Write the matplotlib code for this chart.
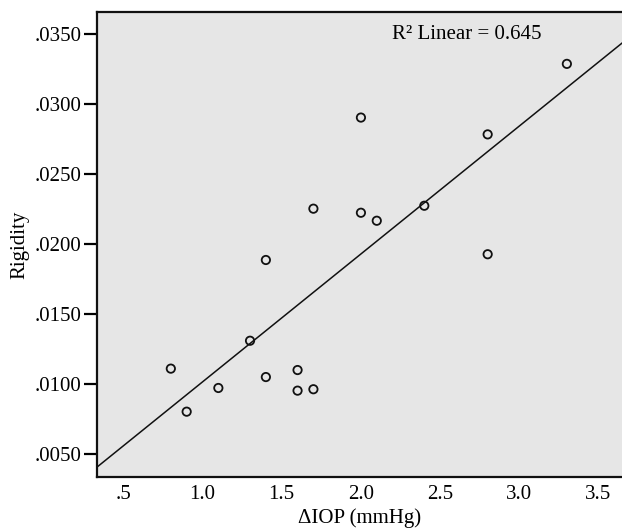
import numpy as np
import matplotlib
matplotlib.use("Agg")
import matplotlib.pyplot as plt

# Data
delta_iop = [0.8, 0.9, 1.1, 1.3, 1.4, 1.6, 1.6, 1.7, 1.4, 1.7, 2.0, 2.1, 2.4, 2.8, 2.8, 2.0, 3.3]
rigidity = [0.01111, 0.00804, 0.00973, 0.0131, 0.01051, 0.01101, 0.00954, 0.00964,
            0.01886, 0.02252, 0.02223, 0.02166, 0.02273, 0.02782, 0.01927, 0.02902, 0.03285]

x_ticks = [0.5, 1.0, 1.5, 2.0, 2.5, 3.0, 3.5]
x_tick_labels = [".5", "1.0", "1.5", "2.0", "2.5", "3.0", "3.5"]
y_ticks = [0.005, 0.010, 0.015, 0.020, 0.025, 0.030, 0.035]
y_tick_labels = [".0050", ".0100", ".0150", ".0200", ".0250", ".0300", ".0350"]
r2_text = "R² Linear = 0.645"

plt.rcParams['font.family'] = ['Liberation Serif', 'DejaVu Serif']

fig = plt.figure(figsize=(6.22, 5.29), dpi=100)
ax = fig.add_axes([97/622, 1-477/529, 1-97/622, (477-12)/529])
ax.set_facecolor('#e6e6e6')

xlim = (0.334, 3.648)
ylim = (0.00338, 0.03655)
ax.set_xlim(*xlim)
ax.set_ylim(*ylim)

x = np.array(delta_iop)
y = np.array(rigidity)
slope, intercept = np.polyfit(x, y, 1)
xl = np.array(xlim)
ax.plot(xl, slope*xl + intercept, color='#111111', lw=1.1, zorder=2)

ax.scatter(x, y, s=36, facecolors='none', edgecolors='#111111', linewidths=1.3, zorder=3)

ax.set_xticks(x_ticks)
ax.set_xticklabels(x_tick_labels)
ax.set_yticks(y_ticks)
ax.set_yticklabels(y_tick_labels)
ax.tick_params(axis='x', length=0, pad=6, labelsize=15)
ax.tick_params(axis='y', length=9.4, width=1.6, pad=1.5, labelsize=15)

for s in ['left', 'bottom', 'top']:
    ax.spines[s].set_linewidth(1.6)
    ax.spines[s].set_color('#111111')
ax.spines['right'].set_visible(False)

ax.set_xlabel("ΔIOP (mmHg)", fontsize=15, labelpad=3)
ax.set_ylabel("Rigidity", fontsize=15, labelpad=4)

ax.text(2.668, 0.03495, r2_text, fontsize=15, ha='center', va='center')

fig.savefig("out.png", dpi=100)
